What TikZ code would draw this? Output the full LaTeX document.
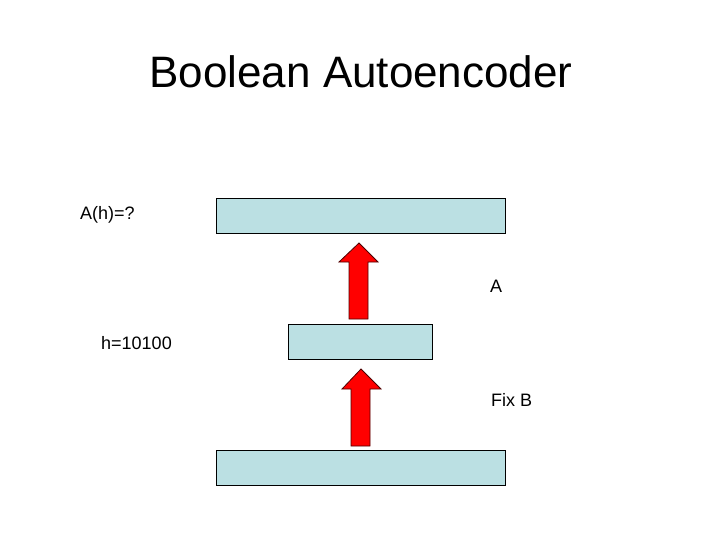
\documentclass[tikz,border=0pt]{standalone}
\usepackage{fontspec}
\setmainfont{Liberation Sans}
\definecolor{boxblue}{RGB}{187,224,227}
\begin{document}
\begin{tikzpicture}[x=1pt,y=-1pt,
  bar/.style={draw=black,fill=boxblue,line width=0.8pt},
  uparrow/.style={draw=black!70!red,fill=red,line width=0.8pt},
  lbl/.style={font=\fontsize{18}{21}\selectfont,inner sep=0pt}]
\useasboundingbox (0,0) rectangle (720,540);
\node[font=\fontsize{44}{52}\selectfont] (title) at (361,72) {Boolean Autoencoder};
\draw[bar] (216,198) rectangle (505,233) coordinate (top);
\draw[bar] (288,324) rectangle (432,359) coordinate (mid);
\draw[bar] (216,450) rectangle (505,485) coordinate (bot);
\draw[uparrow] (359,243) -- (378,262) -- (368,262) -- (368,319) -- (349,319) -- (349,262) -- (339,262) -- cycle;
\draw[uparrow] (361,369) -- (381,389) -- (370,389) -- (370,446) -- (351,446) -- (351,389) -- (342,389) -- cycle;
\node[lbl,anchor=west] (ah) at (80,215) {A(h)=?};
\node[lbl,anchor=west] (a) at (490,286) {A};
\node[lbl,anchor=west] (h) at (101,343) {h=10100};
\node[lbl,anchor=west] (fb) at (491,400) {Fix B};
\end{tikzpicture}
\end{document}
